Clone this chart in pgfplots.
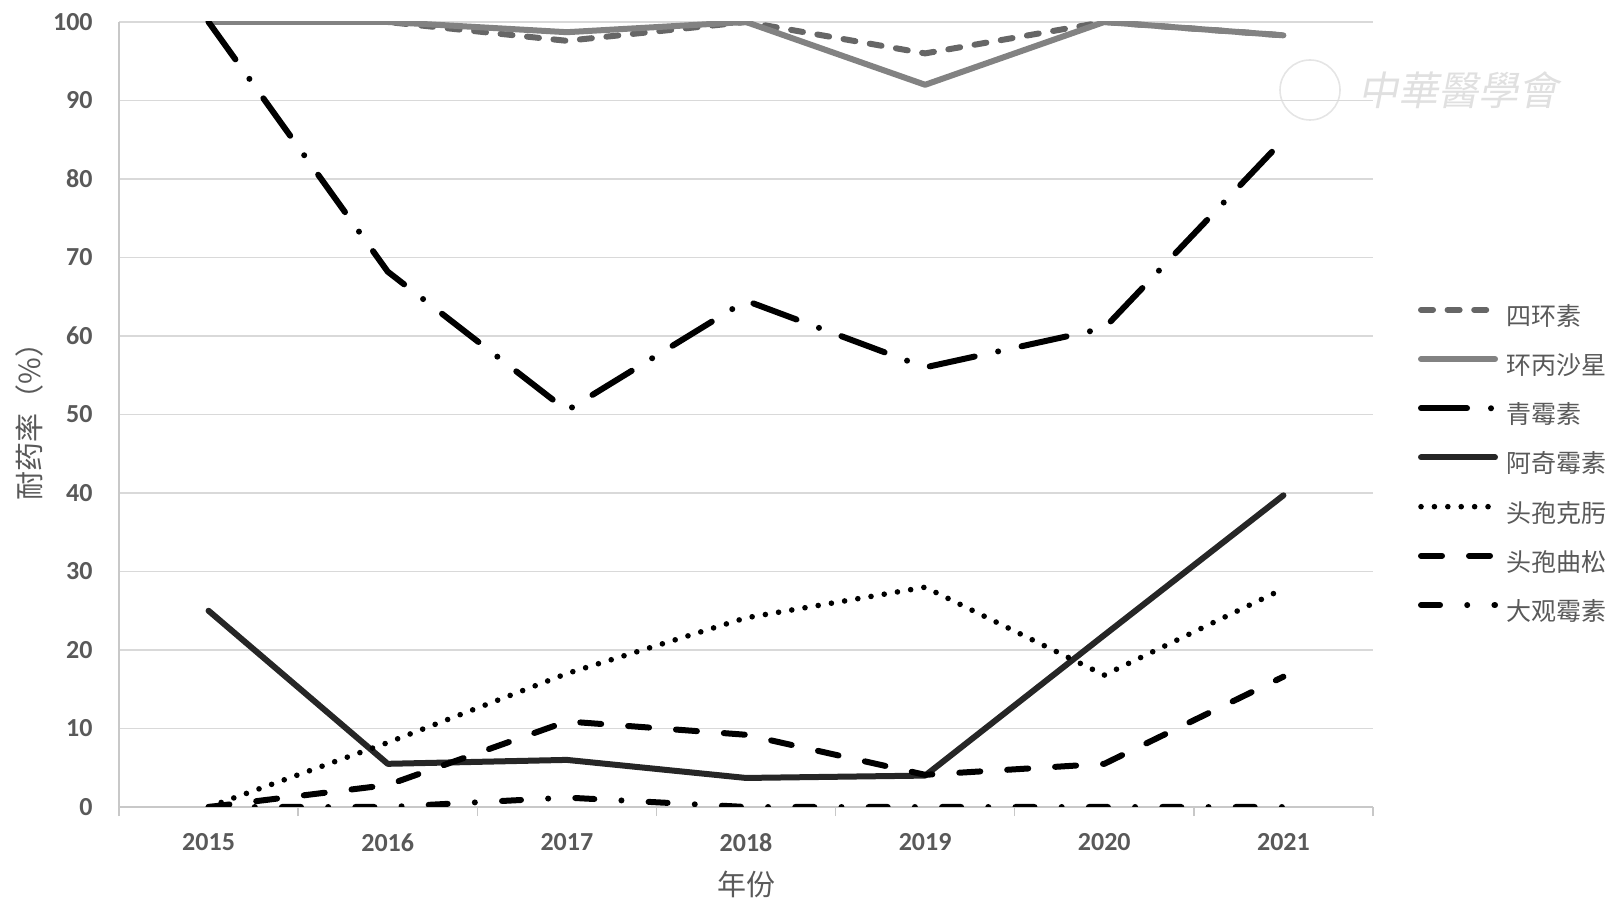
\documentclass[border=0pt]{standalone}
\usepackage{fontspec}
\setmainfont{Carlito}
\newfontfamily\cjk{Noto Sans CJK SC}
\usepackage{pgfplots}
\pgfplotsset{compat=1.18}
\definecolor{tickgray}{HTML}{595959}
\definecolor{gridgray}{HTML}{D9D9D9}
\definecolor{axisgray}{HTML}{C8C8C8}
\definecolor{dkgray}{HTML}{666666}
\definecolor{ltgray}{HTML}{828282}
\definecolor{nearblack}{HTML}{262626}
\begin{document}
\begin{tikzpicture}
\path[use as bounding box] (0,0) rectangle (810.5bp,455bp);
% watermark
\draw[black!10, line width=0.8bp] (655bp,410bp) circle (15bp);
\node[text=black!12, font=\cjk\fontsize{20bp}{22bp}\selectfont, xslant=0.2] at (731bp,410bp) {中華醫學會};
\begin{axis}[
  at={(59.5bp,51.5bp)}, anchor=south west,
  scale only axis, width=627bp, height=392.5bp,
  xmin=-0.5, xmax=6.5, ymin=0, ymax=100,
  xtick={0,1,2,3,4,5,6},
  xticklabels={2015,2016,2017,2018,2019,2020,2021},
  ytick={0,10,20,30,40,50,60,70,80,90,100},
  extra x ticks={-0.5,0.5,1.5,2.5,3.5,4.5,5.5,6.5},
  extra x tick labels={},
  extra x tick style={major tick length=4.5bp, tick align=outside, grid=none,
     major tick style={draw=axisgray, line width=0.75bp}},
  major tick length=0pt,
  axis x line*=bottom, axis y line*=left,
  axis line style={-, draw=axisgray, line width=0.75bp},
  ymajorgrids,
  grid style={draw=gridgray, line width=0.75bp},
  /pgf/number format/assume math mode=true,
  tick label style={font=\bfseries\fontsize{13bp}{15bp}\selectfont, text=tickgray},
  yticklabel style={anchor=east, inner sep=0pt},
  yticklabel shift=13bp,
  xticklabel style={anchor=north, inner sep=0pt},
  xticklabel shift=13bp,
  xlabel={\cjk 年份},
  ylabel={\cjk 耐药率（\%）},
  label style={font=\fontsize{14.5bp}{17bp}\selectfont, text=tickgray},
  xlabel style={at={(axis description cs:0.5,0)}, anchor=center, yshift=-38.5bp},
  ylabel style={at={(axis description cs:0,0.50)}, anchor=center, yshift=45bp},
  legend style={at={(1.0359,0.639)}, anchor=north west, draw=none, fill=none,
    inner sep=0pt, outer sep=0pt, row sep=12.1bp, column sep=4bp,
    font=\cjk\fontsize{12.5bp}{15bp}\selectfont, text=tickgray,
    nodes={inner sep=0pt, text height=10bp, text depth=2.5bp}},
  legend cell align=left,
  legend image code/.code={\draw[#1] (0bp,4bp) -- (37bp,4bp);},
  every axis plot/.append style={line cap=round, line join=round, line width=3bp},
]
\addplot[dkgray, dash pattern=on 6bp off 7.3bp] coordinates {(0,100) (1,100) (2,97.6) (3,100) (4,96) (5,100) (6,98.3)};
\addlegendentry{四环素}
\addplot[ltgray] coordinates {(0,100) (1,100) (2,98.7) (3,100) (4,92) (5,100) (6,98.3)};
\addlegendentry{环丙沙星}
\addplot[black, dash pattern=on 23bp off 12bp on 0bp off 12bp] coordinates {(0,100) (1,68.2) (2,50.5) (3,64.5) (4,56) (5,61) (6,85)};
\addlegendentry{青霉素}
\addplot[nearblack] coordinates {(0,25) (1,5.5) (2,6) (3,3.7) (4,4) (5,21.9) (6,39.7)};
\addlegendentry{阿奇霉素}
\addplot[black, line width=2.8bp, dash pattern=on 0bp off 6.7bp] coordinates {(0,0) (1,8.2) (2,17) (3,24.1) (4,28) (5,16.8) (6,27.8)};
\addlegendentry{头孢克肟}
\addplot[black, dash pattern=on 10.5bp off 13.5bp] coordinates {(0,0) (1,2.8) (2,10.9) (3,9.2) (4,4.1) (5,5.5) (6,16.6)};
\addlegendentry{头孢曲松}
\addplot[black, dash pattern=on 9.5bp off 13.6bp on 0bp off 13.6bp] coordinates {(0,0) (1,0) (2,1.2) (3,0) (4,0) (5,0) (6,0)};
\addlegendentry{大观霉素}
\end{axis}
\end{tikzpicture}
\end{document}
